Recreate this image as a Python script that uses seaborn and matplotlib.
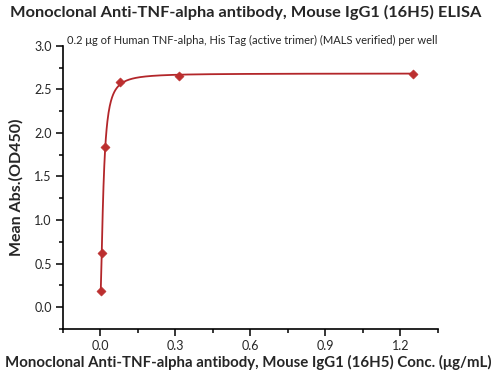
import numpy as np
import pandas as pd
import seaborn as sns
import matplotlib
matplotlib.use("Agg")
import matplotlib.pyplot as plt
from matplotlib.ticker import MultipleLocator

# concentrations (ug/mL) and mean OD450
conc = [1.25, 0.3125, 0.078, 0.0195, 0.0049, 0.0012]
od450 = [2.68, 2.65, 2.58, 1.84, 0.62, 0.19]

title = "Monoclonal Anti-TNF-alpha antibody, Mouse IgG1 (16H5) ELISA"
subtitle = "0.2 \u03bcg of Human TNF-alpha, His Tag (active trimer) (MALS verified) per well"
xlabel = "Monoclonal Anti-TNF-alpha antibody, Mouse IgG1 (16H5) Conc. (\u03bcg/mL)"
ylabel = "Mean Abs.(OD450)"

df = pd.DataFrame({"conc": conc, "od": od450})


def fit_4pl(x, y):
    # coarse grid search on EC50 / hill, linear least squares for bottom / top
    best = None
    for c in np.logspace(-3, -0.5, 200):
        for b in np.linspace(0.5, 3.0, 101):
            f = 1.0 / (1.0 + (x / c) ** b)
            A = np.column_stack([f, 1 - f])
            coef, *_ = np.linalg.lstsq(A, y, rcond=None)
            err = np.sum((A @ coef - y) ** 2)
            if best is None or err < best[0]:
                best = (err, c, b, coef[0], coef[1])
    return best[1:]


c, b, bottom, top = fit_4pl(df["conc"].values, df["od"].values)
xs = np.linspace(df["conc"].min(), df["conc"].max(), 800)
curve = pd.DataFrame({"conc": xs,
                      "od": top + (bottom - top) / (1 + (xs / c) ** b)})

sns.set_theme(style="ticks")
plt.rcParams["font.family"] = ["Lato", "DejaVu Sans"]

fig = plt.figure(figsize=(4.98, 3.78), dpi=100)
ax = fig.add_axes([0.1265, 0.1296, 0.7525, 0.7494])

red = "#B3262A"
sns.lineplot(data=curve, x="conc", y="od", ax=ax, color=red, linewidth=1.3)
sns.scatterplot(data=df, x="conc", y="od", ax=ax, marker="D", s=22,
                color="#BC2F2F", edgecolor="#BC2F2F", zorder=3)

ax.set_xlim(-0.15, 1.35)
ax.set_ylim(-0.25, 3.0)
ax.xaxis.set_major_locator(MultipleLocator(0.3))
ax.xaxis.set_minor_locator(MultipleLocator(0.15))
ax.yaxis.set_major_locator(MultipleLocator(0.5))
ax.yaxis.set_minor_locator(MultipleLocator(0.25))
ax.set_xticks([0.0, 0.3, 0.6, 0.9, 1.2])
ax.set_xticklabels(["0.0", "0.3", "0.6", "0.9", "1.2"])
ax.set_yticks([0.0, 0.5, 1.0, 1.5, 2.0, 2.5, 3.0])
ax.set_yticklabels(["0.0", "0.5", "1.0", "1.5", "2.0", "2.5", "3.0"])

ax.tick_params(which="major", direction="out", length=5, width=1.1,
               labelsize=9, color="black", pad=3)
ax.tick_params(which="minor", direction="out", length=3, width=1.1, color="black")
for side in ["top", "right"]:
    ax.spines[side].set_visible(False)
for side in ["left", "bottom"]:
    ax.spines[side].set_linewidth(1.2)
    ax.spines[side].set_color("black")

ax.set_xlabel(xlabel, fontsize=10.8, fontweight="bold", labelpad=1)
ax.set_ylabel(ylabel, fontsize=11.5, fontweight="bold", labelpad=8)
ax.xaxis.set_label_coords(0.495, -0.09)

fig.text(0.493, 0.966, title, ha="center", va="center", fontsize=11.8, fontweight="bold")
ax.text(0.01, 1.0, subtitle, transform=ax.transAxes, ha="left", va="bottom", fontsize=8)

fig.savefig("out.png", dpi=100)
